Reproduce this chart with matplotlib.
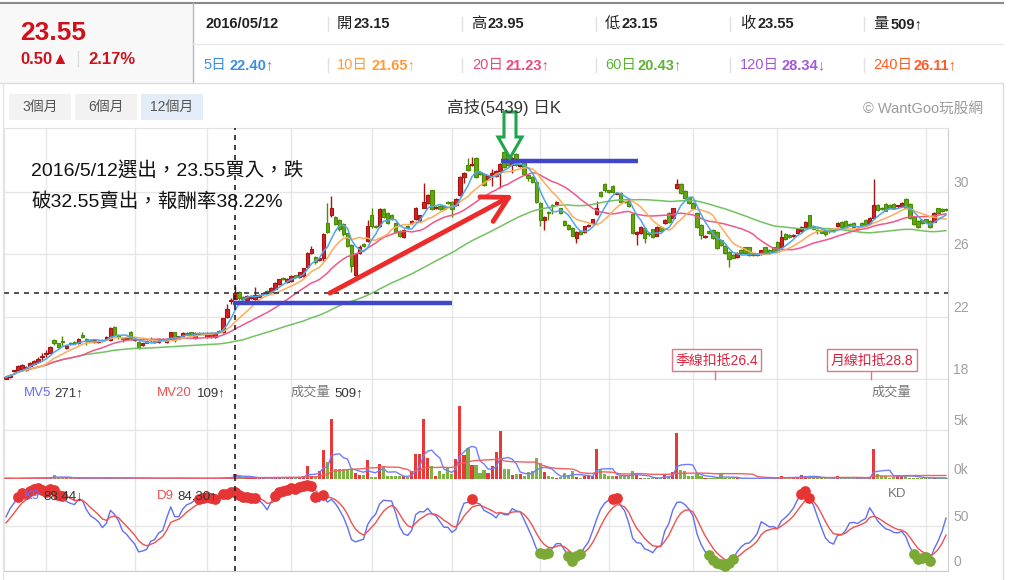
import matplotlib
matplotlib.use("Agg")
import matplotlib.pyplot as plt
from matplotlib.patches import Rectangle, Polygon
from matplotlib.transforms import blended_transform_factory, offset_copy
import numpy as np
import pandas as pd

plt.rcParams['font.family'] = ['Liberation Sans', 'Noto Sans CJK TC', 'DejaVu Sans']

# 日K資料 (開, 收, 高, 低)，由左到右
opens = [
    18.00, 18.15, 18.50, 18.60, 18.65, 18.60, 18.85, 18.95, 19.10, 19.40,
    19.60, 19.70, 20.50, 20.30, 20.40, 19.98, 20.35, 20.40, 20.30, 20.85,
    20.60, 20.50, 20.40, 20.40, 20.50, 20.60, 20.50, 21.35, 20.85, 20.60,
    20.60, 21.05, 20.50, 20.40, 20.20, 20.45, 20.55, 20.50, 20.40, 20.55,
    20.40, 20.60, 21.00, 20.60, 20.75, 20.95, 21.00, 20.65, 20.95, 20.95,
    20.70, 20.70, 20.70, 21.05, 21.00, 22.00, 23.00, 23.15,
    23.60, 23.30, 23.10, 23.20, 23.15, 23.30, 23.45, 23.65, 23.60, 23.80,
    24.10, 24.45, 24.20, 24.30, 24.65, 24.55, 24.60, 25.20, 26.10, 25.85,
    25.65, 25.75, 28.00, 28.50, 28.40, 28.20, 27.95, 27.35, 26.60, 24.70,
    26.10, 26.65, 26.85, 28.50, 27.85, 27.80, 28.90, 28.65, 28.55, 28.00,
    27.50, 27.10, 27.80, 28.00, 28.25, 28.20, 29.00, 29.30, 30.10, 28.95,
    29.10, 29.10, 29.35, 29.35, 29.15, 29.80,
    30.95, 31.70, 31.70, 32.20, 31.25, 31.15, 30.80, 31.10, 31.00, 31.35,
    32.55, 32.35, 31.70, 32.45, 31.65, 31.90, 31.10, 30.95, 30.65, 29.30,
    28.20, 28.70, 29.15, 29.25, 28.95, 28.15, 27.90, 27.70, 27.05, 27.50,
    27.45, 27.80, 28.00, 28.60, 30.00, 30.50, 30.10, 30.40, 29.90, 29.95,
    29.40, 29.55, 28.60, 27.30, 27.35, 27.70, 27.30, 27.60, 27.20, 27.75,
    28.00, 28.65, 28.35, 30.25, 30.50, 30.05, 29.65, 29.30, 28.65, 27.90,
    27.10, 27.50,
    27.55, 27.45, 26.90, 26.55, 26.15, 25.95, 25.85, 26.30, 26.45, 26.45,
    26.00, 26.00, 26.00, 26.45, 26.30, 26.45, 26.80, 26.50, 27.30, 27.25,
    27.15, 27.40, 27.50, 27.75, 28.50, 27.85, 27.52, 27.55, 27.50, 27.52,
    27.57, 27.80, 28.10, 28.15, 27.92, 28.00, 27.60, 28.00, 28.20, 28.00,
    28.35, 29.15, 29.00, 29.25, 29.15, 29.25, 29.08, 29.10, 29.55, 29.25,
    28.40, 28.15, 28.20, 28.25, 28.15, 28.10, 28.95, 28.90, 28.87,
]
closes = [
    18.15, 18.30, 18.52, 18.85, 18.90, 18.80, 19.05, 19.15, 19.30, 19.42,
    19.62, 20.05, 20.30, 20.05, 20.38, 20.10, 20.25, 20.30, 20.60, 20.70,
    20.45, 20.45, 20.50, 20.45, 20.48, 20.70, 21.30, 20.85, 20.70, 20.58,
    20.70, 20.60, 20.60, 20.00, 20.30, 20.35, 20.53, 20.40, 20.60, 20.53,
    20.60, 21.00, 20.50, 20.75, 20.95, 20.93, 20.90, 20.95, 20.93, 20.93,
    20.95, 20.95, 20.95, 21.03, 21.90, 22.50, 23.02, 23.55,
    23.20, 23.15, 23.35, 23.35, 23.40, 23.40, 23.55, 23.55, 23.85, 24.15,
    24.40, 24.40, 24.45, 24.60, 24.55, 24.85, 25.10, 26.10, 26.35, 25.50,
    25.75, 27.30, 27.45, 29.00, 27.95, 27.60, 27.30, 26.55, 25.25, 26.00,
    26.50, 26.55, 27.80, 27.80, 27.75, 28.90, 28.40, 28.00, 28.30, 27.45,
    27.20, 27.55, 27.75, 28.15, 29.00, 28.50, 29.35, 29.80, 28.90, 29.05,
    28.90, 28.90, 29.30, 28.90, 29.55, 30.95,
    31.20, 31.40, 31.80, 30.95, 31.15, 30.45, 31.00, 31.20, 31.35, 31.80,
    31.60, 31.70, 32.20, 31.70, 31.75, 31.15, 30.90, 30.65, 29.35, 28.20,
    28.40, 28.65, 29.10, 29.35, 28.65, 27.90, 27.60, 27.20, 27.45, 27.30,
    27.80, 27.90, 28.25, 28.95, 29.75, 30.10, 30.00, 30.00, 29.95, 29.35,
    29.38, 29.10, 27.35, 27.45, 27.75, 27.05, 27.28, 27.10, 27.75, 27.50,
    28.20, 28.05, 28.95, 30.50, 29.95, 29.60, 29.30, 29.00, 27.75, 27.25,
    27.20, 27.35,
    27.05, 26.40, 26.60, 26.10, 25.70, 25.80, 26.10, 26.10, 26.10, 25.95,
    25.98, 25.95, 26.25, 26.10, 26.10, 26.20, 26.30, 27.10, 27.00, 27.10,
    27.25, 27.60, 27.75, 28.10, 27.75, 27.65, 27.50, 27.40, 27.30, 27.50,
    27.55, 28.00, 27.75, 27.75, 27.90, 27.75, 27.70, 27.90, 27.95, 28.35,
    29.15, 28.85, 28.90, 28.80, 28.95, 28.95, 29.10, 29.30, 28.95, 28.35,
    27.95, 27.75, 28.00, 28.05, 27.75, 28.65, 28.65, 28.75, 28.85,
]
highs = [
    18.20, 18.35, 18.60, 18.90, 18.95, 18.85, 19.10, 19.20, 19.40, 19.65,
    19.85, 20.10, 20.55, 20.35, 20.75, 20.15, 20.40, 20.45, 20.65, 21.00,
    20.65, 20.55, 20.55, 20.50, 20.60, 20.75, 21.35, 21.40, 20.90, 20.70,
    20.75, 21.10, 20.65, 20.45, 20.35, 20.50, 20.70, 20.55, 20.65, 20.65,
    20.65, 21.05, 21.05, 20.80, 21.00, 21.05, 21.05, 21.00, 21.00, 21.00,
    21.00, 21.00, 21.00, 21.15, 21.95, 22.80, 23.20, 23.95,
    23.65, 23.35, 23.40, 23.40, 23.90, 23.45, 23.60, 23.70, 23.90, 24.20,
    24.45, 24.55, 24.50, 24.65, 24.70, 24.90, 25.15, 26.15, 26.55, 25.90,
    25.80, 27.35, 29.30, 29.75, 28.45, 28.25, 28.00, 27.40, 26.65, 26.10,
    26.60, 26.70, 28.20, 29.00, 27.90, 28.95, 29.00, 28.70, 28.60, 28.05,
    27.55, 27.60, 27.90, 28.20, 29.05, 28.55, 30.60, 29.85, 30.15, 29.10,
    29.15, 29.15, 29.40, 29.40, 29.60, 31.00,
    31.25, 32.20, 32.25, 32.25, 31.30, 31.20, 31.05, 31.50, 31.40, 31.85,
    32.60, 32.40, 32.25, 32.50, 31.80, 31.95, 31.15, 31.00, 30.70, 29.35,
    28.45, 28.80, 29.20, 29.40, 29.00, 28.20, 27.95, 27.75, 27.50, 27.55,
    27.85, 27.95, 28.30, 29.40, 30.05, 30.55, 30.15, 30.45, 30.00, 30.00,
    29.45, 29.60, 28.65, 27.50, 27.80, 27.75, 27.40, 27.65, 27.80, 27.80,
    28.25, 28.70, 29.00, 30.80, 30.55, 30.10, 29.70, 29.35, 28.70, 27.95,
    27.25, 27.55,
    27.60, 27.50, 26.95, 26.60, 26.20, 26.00, 26.15, 26.35, 26.50, 26.50,
    26.05, 26.05, 26.30, 26.50, 26.35, 26.50, 26.85, 27.55, 27.35, 27.30,
    27.30, 27.65, 27.80, 28.15, 28.55, 27.90, 27.60, 27.60, 27.55, 27.60,
    27.65, 28.05, 28.15, 28.20, 28.00, 28.05, 27.75, 28.05, 28.25, 28.40,
    30.80, 29.20, 29.05, 29.30, 29.20, 29.30, 29.15, 29.35, 29.60, 29.30,
    28.45, 28.20, 28.25, 28.30, 28.20, 28.70, 29.00, 28.95, 28.95,
]
lows = [
    17.95, 18.10, 18.45, 18.55, 18.60, 18.55, 18.80, 18.90, 19.05, 19.20,
    19.40, 19.65, 20.20, 20.00, 20.10, 19.95, 20.20, 20.25, 20.25, 20.65,
    20.20, 20.40, 20.35, 20.35, 20.40, 20.55, 20.45, 20.80, 20.60, 20.40,
    20.55, 20.50, 20.45, 19.95, 20.15, 20.30, 20.35, 20.35, 20.35, 20.45,
    20.35, 20.55, 20.40, 20.55, 20.70, 20.85, 20.85, 20.60, 20.85, 20.85,
    20.65, 20.65, 20.65, 20.95, 20.95, 21.95, 22.80, 23.15,
    23.10, 23.10, 23.05, 23.15, 23.10, 23.25, 23.40, 23.50, 23.55, 23.75,
    24.05, 24.35, 24.15, 24.25, 24.50, 24.50, 24.55, 25.10, 26.05, 25.40,
    25.60, 25.60, 27.40, 28.40, 27.90, 27.50, 27.20, 26.50, 24.90, 24.60,
    26.00, 26.50, 26.80, 27.70, 27.70, 27.75, 28.35, 27.95, 28.20, 27.40,
    27.10, 27.05, 27.65, 27.95, 28.20, 28.10, 28.95, 29.25, 28.85, 28.90,
    28.85, 28.85, 29.20, 28.40, 29.10, 29.75,
    30.60, 31.35, 31.65, 30.90, 31.10, 30.40, 30.75, 30.40, 30.95, 30.25,
    31.55, 31.65, 31.20, 31.65, 31.60, 31.10, 30.70, 30.60, 29.30, 27.80,
    27.55, 28.20, 28.60, 29.20, 28.60, 27.85, 27.55, 27.15, 26.70, 27.25,
    27.40, 27.75, 27.95, 28.55, 29.70, 30.00, 29.95, 29.95, 29.85, 29.30,
    29.30, 29.05, 27.30, 26.60, 27.30, 26.70, 27.20, 27.05, 27.15, 27.45,
    27.95, 28.00, 28.30, 30.20, 29.90, 29.55, 29.25, 28.95, 27.70, 27.00,
    27.05, 27.30,
    27.00, 26.35, 26.55, 26.05, 25.20, 25.75, 25.80, 26.05, 26.05, 25.90,
    25.90, 25.90, 25.95, 26.05, 26.05, 26.15, 26.25, 26.45, 26.95, 27.05,
    27.10, 27.35, 27.45, 27.70, 27.70, 27.60, 27.30, 27.35, 27.20, 27.40,
    27.45, 27.75, 27.70, 27.70, 27.85, 27.70, 27.55, 27.85, 27.90, 27.95,
    28.30, 28.80, 28.85, 28.75, 28.90, 28.90, 29.00, 29.05, 28.90, 28.30,
    27.90, 27.70, 27.95, 28.00, 27.70, 28.05, 28.60, 28.70, 28.80,
]
volumes = [
    80, 60, 50, 90, 100, 80, 120, 110, 130, 90,
    100, 180, 450, 150, 120, 100, 90, 130, 80, 110,
    70, 60, 80, 90, 70, 110, 140, 120, 90, 60,
    70, 100, 80, 120, 70, 60, 50, 60, 80, 70,
    60, 90, 110, 100, 70, 60, 70, 80, 60, 70,
    90, 100, 80, 60, 150, 250, 180, 509,
    380, 150, 120, 100, 180, 90, 100, 120, 110, 200,
    130, 110, 150, 160, 140, 180, 300, 1350, 340, 270,
    780, 2990, 1700, 6120, 1020, 1020, 1020, 1020, 1020, 610,
    370, 440, 1970, 200, 200, 1560, 1290, 270, 270, 270,
    340, 270, 200, 780, 2590, 2590, 6120, 2140, 1290, 270,
    850, 510, 1220, 540, 2070, 7480,
    2480, 3160, 1460, 1460, 610, 950, 610, 1360, 2720, 4860,
    1020, 1050, 440, 540, 540, 340, 680, 780, 2140, 1630,
    710, 340, 200, 100, 200, 610, 440, 850, 200, 130,
    340, 270, 340, 3090, 950, 510, 340, 340, 340, 300,
    340, 300, 780, 510, 100, 100, 120, 100, 120, 110,
    540, 270, 680, 4690, 950, 780, 340, 340, 540, 340,
    100, 100,
    120, 120, 540, 100, 80, 80, 80, 70, 60, 70,
    60, 70, 90, 60, 70, 80, 90, 340, 120, 100,
    100, 200, 440, 270, 270, 150, 150, 100, 80, 80,
    80, 270, 100, 90, 80, 100, 90, 110, 100, 120,
    3090, 510, 340, 340, 150, 200, 440, 340, 440, 150,
    150, 120, 100, 120, 100, 150, 100, 100, 120,
]
month_starts = [10, 32, 50, 71, 91, 111, 133, 150, 171, 192, 229]
buy_idx = 57
buy_price = 23.55
support = (56.5, 111.0, 22.9)
resist = (123.2, 157.3, 32.0)

W, H = 1010, 580
fig = plt.figure(figsize=(W / 100, H / 100), dpi=100)


def frame(top, bottom, left=4, right=948):
    return [left / W, 1 - bottom / H, (right - left) / W, (bottom - top) / H]


ax_p = fig.add_axes(frame(128, 380))
ax_v = fig.add_axes(frame(380, 479))
ax_k = fig.add_axes(frame(479, 571))

o = np.array(opens)
c = np.array(closes)
h = np.array(highs)
l = np.array(lows)
vol = np.array(volumes, dtype=float)
n = len(c)
idx = np.arange(n)
up = c >= o

# K線
body_col = np.where(up, '#d42222', '#66a611')
edge_col = np.where(up, '#a31515', '#4b8a06')
ax_p.vlines(idx, l, h, colors=edge_col, lw=1, zorder=3)
ax_p.bar(idx, np.maximum(np.abs(c - o), 0.06), bottom=np.minimum(o, c), width=0.86,
         color=body_col, edgecolor=edge_col, linewidth=0.8, zorder=4)

s = pd.Series(c)
for win, col in [(60, '#72c262'), (20, '#f0578a'), (10, '#ffab5a'), (5, '#4ea7ea')]:
    ax_p.plot(idx, s.rolling(win, min_periods=1).mean(), color=col, lw=1.1, zorder=5)

ax_p.axhline(buy_price, color='#333333', lw=1.2, ls=(0, (3, 3)), zorder=6)
ax_p.plot(support[:2], [support[2]] * 2, color='#3f46c9', lw=3.2, solid_capstyle='butt', zorder=7)
ax_p.plot(resist[:2], [resist[2]] * 2, color='#3f46c9', lw=3.2, solid_capstyle='butt', zorder=7)
ax_p.set_ylim(17.95, 34.1)
ax_p.set_yticks([18, 22, 26, 30])

# 成交量
vcol = np.where(up, '#e8383a', '#7cb342')
ax_v.bar(idx, vol, width=0.78, color=vcol, zorder=3)
vs = pd.Series(vol)
ax_v.plot(idx, vs.rolling(5, min_periods=1).mean(), color='#6f7fff', lw=1, zorder=4)
ax_v.plot(idx, vs.rolling(20, min_periods=1).mean(), color='#f06060', lw=1, zorder=4)
ax_v.set_ylim(0, 10100)
ax_v.set_yticks([0, 5000])

# KD
k_vals, d_vals = [], []
k = d = 50.0
for i in range(n):
    lo = l[max(0, i - 8):i + 1].min()
    hi = h[max(0, i - 8):i + 1].max()
    rsv = 50.0 if hi == lo else (c[i] - lo) / (hi - lo) * 100
    k = k * 2 / 3 + rsv / 3
    d = d * 2 / 3 + k / 3
    k_vals.append(k)
    d_vals.append(d)
k_vals = np.array(k_vals)
d_vals = np.array(d_vals)
ax_k.plot(idx, k_vals, color='#6070f0', lw=1, zorder=3)
ax_k.plot(idx, d_vals, color='#f05050', lw=1, zorder=3)
hot = k_vals >= 80
cold = k_vals <= 20
ax_k.scatter(idx[hot], k_vals[hot], s=60, color='#e63535', zorder=5, linewidths=0)
ax_k.scatter(idx[cold], k_vals[cold], s=60, color='#7aaa35', zorder=5, linewidths=0)
ax_k.set_ylim(0, 102)
ax_k.set_yticks([0, 50])

for ax in (ax_p, ax_v, ax_k):
    ax.set_xlim(-0.5, n - 0.5)
    ax.set_xticks(month_starts)
    ax.grid(True, color='#e6e6e6', lw=1, zorder=0)
    ax.set_axisbelow(True)
    ax.tick_params(length=0, labelleft=False, labelbottom=False)
    ax.axvline(buy_idx, color='#222222', lw=1.2, ls=(0, (3, 3)), zorder=6)
    for side in ('bottom', 'right'):
        ax.spines[side].set_color('#cccccc')
    ax.spines['left'].set_color('#e2e2e2')
    ax.spines['top'].set_visible(False)
ax_p.spines['top'].set_visible(True)
ax_p.spines['top'].set_color('#e2e2e2')


def right_labels(ax, vals, texts):
    tr = blended_transform_factory(ax.transAxes, ax.transData)
    tr = offset_copy(tr, fig=fig, x=5, y=2, units='dots')
    for v, t in zip(vals, texts):
        ax.text(1, v, t, transform=tr, ha='left', va='bottom', color='#a0a0a0',
                fontsize=10, clip_on=False)


right_labels(ax_p, [18, 22, 26, 30], ['18', '22', '26', '30'])
right_labels(ax_v, [0, 5000], ['0k', '5k'])
right_labels(ax_k, [0, 50], ['0', '50'])

# 畫面框架與文字 (像素座標)
ov = fig.add_axes([0, 0, 1, 1], zorder=10)
ov.set_xlim(0, W)
ov.set_ylim(H, 0)
ov.axis('off')
ov.patch.set_alpha(0)

ov.add_patch(Rectangle((0, 3), 193, 80, facecolor='#f8f8f8', edgecolor='none', zorder=0))
ov.plot([0, 1003], [3, 3], color='#8a8a8a', lw=1.5)
ov.plot([193, 193], [3, 83], color='#b8b8b8', lw=1)
ov.plot([193, 1003], [44, 44], color='#e8e8e8', lw=1)
ov.plot([0, 1003], [83, 83], color='#dddddd', lw=1)
ov.plot([1003, 1003], [83, 580], color='#dddddd', lw=1)
ov.plot([3, 3], [83, 580], color='#e6e6e6', lw=1)

ov.text(20, 33, '23.55', fontsize=19, fontweight='bold', color='#d0101b', va='center')
ov.text(20, 59, '0.50▲', fontsize=12, fontweight='bold', color='#d0101b', va='center')
ov.plot([78, 78], [51, 66], color='#dddddd', lw=1)
ov.text(88, 59, '2.17%', fontsize=12, fontweight='bold', color='#d0101b', va='center')

ov.text(205, 24, '2016/05/12', fontsize=10.5, fontweight='bold', color='#222222', va='center')
row1 = [(337, 354, '開', '23.15'), (471, 488, '高', '23.95'), (605, 622, '低', '23.15'),
        (740, 757, '收', '23.55'), (873, 891, '量', '509↑')]
for xl, xv, lab, val in row1:
    ov.text(xl, 24, lab, fontsize=11, color='#222222', va='center')
    ov.text(xv, 24, val, fontsize=10.5, fontweight='bold', color='#222222', va='center')
for xs in [328, 462, 596, 730, 864]:
    ov.plot([xs, xs], [17, 31], color='#e0e0e0', lw=1)
    ov.plot([xs, xs], [58, 72], color='#e0e0e0', lw=1)

row2 = [(203, 229, '5日', '22.40↑', '#3a8fe4'), (337, 371, '10日', '21.65↑', '#ff9a3a'),
        (472, 505, '20日', '21.23↑', '#f0457f'), (605, 638, '60日', '20.43↑', '#5cb336'),
        (740, 781, '120日', '28.34↓', '#a258d6'), (873, 914, '240日', '26.11↑', '#ff5a22')]
for xl, xv, lab, val, col in row2:
    ov.text(xl, 65, lab, fontsize=10.5, color=col, va='center')
    ov.text(xv, 65, val, fontsize=10.5, fontweight='bold', color=col, va='center')

for x0, lab, bg in [(9, '3個月', '#f2f2f2'), (75, '6個月', '#f2f2f2'), (141, '12個月', '#e4ecf7')]:
    ov.add_patch(Rectangle((x0, 94), 62, 26, facecolor=bg, edgecolor='none'))
    ov.text(x0 + 31, 107, lab, fontsize=10, color='#555555', ha='center', va='center')

ov.text(504, 107, '高技(5439) 日K', fontsize=12, color='#333333', ha='center', va='center')
ov.text(983, 109, '© WantGoo玩股網', fontsize=10.5, color='#9a9a9a', ha='right', va='center')

ov.text(31, 171, '2016/5/12選出，23.55買入，跌', fontsize=14, color='#111111', va='center')
ov.text(31, 202, '破32.55賣出，報酬率38.22%', fontsize=14, color='#111111', va='center')

ov.annotate('', xy=(513, 195), xytext=(330, 293),
            arrowprops=dict(arrowstyle='->,head_length=0.9,head_width=0.5', color='#ee2b2b',
                            lw=3.5, mutation_scale=20, shrinkA=0, shrinkB=0))
ov.add_patch(Polygon([(504, 112), (516, 112), (516, 137), (522, 137), (510, 158),
                      (498, 137), (504, 137)], closed=True, fill=False,
                     edgecolor='#1fa64a', lw=2.2))

for x0, x1, tick_x, lab in [(672, 761, 715, '季線扣抵26.4'), (827, 917, 871, '月線扣抵28.8')]:
    ov.add_patch(Rectangle((x0, 349), x1 - x0, 22, facecolor='white', edgecolor='#e07585', lw=1))
    ov.plot([tick_x, tick_x], [371, 379], color='#e07585', lw=1)
    ov.text((x0 + x1) / 2, 360.5, lab, fontsize=10, color='#e0203a', ha='center', va='center')

ov.text(24, 393, 'MV5', fontsize=9.5, color='#6a6aff', va='center')
ov.text(54, 393, '271↑', fontsize=9.5, color='#333333', va='center')
ov.text(157, 393, 'MV20', fontsize=9.5, color='#f05050', va='center')
ov.text(197, 393, '109↑', fontsize=9.5, color='#333333', va='center')
ov.text(291, 393, '成交量', fontsize=9.5, color='#777777', va='center')
ov.text(334, 393, '509↑', fontsize=9.5, color='#333333', va='center')
ov.text(872, 393, '成交量', fontsize=9.5, color='#777777', va='center')
ov.text(24, 496, 'K9', fontsize=9.5, color='#6a6aff', va='center')
ov.text(43, 496, '88.44↓', fontsize=9.5, color='#333333', va='center')
ov.text(157, 496, 'D9', fontsize=9.5, color='#f05050', va='center')
ov.text(177, 496, '84.30↑', fontsize=9.5, color='#333333', va='center')
ov.text(888, 494, 'KD', fontsize=9.5, color='#777777', va='center')

fig.savefig('out.png', dpi=100, facecolor='white')
